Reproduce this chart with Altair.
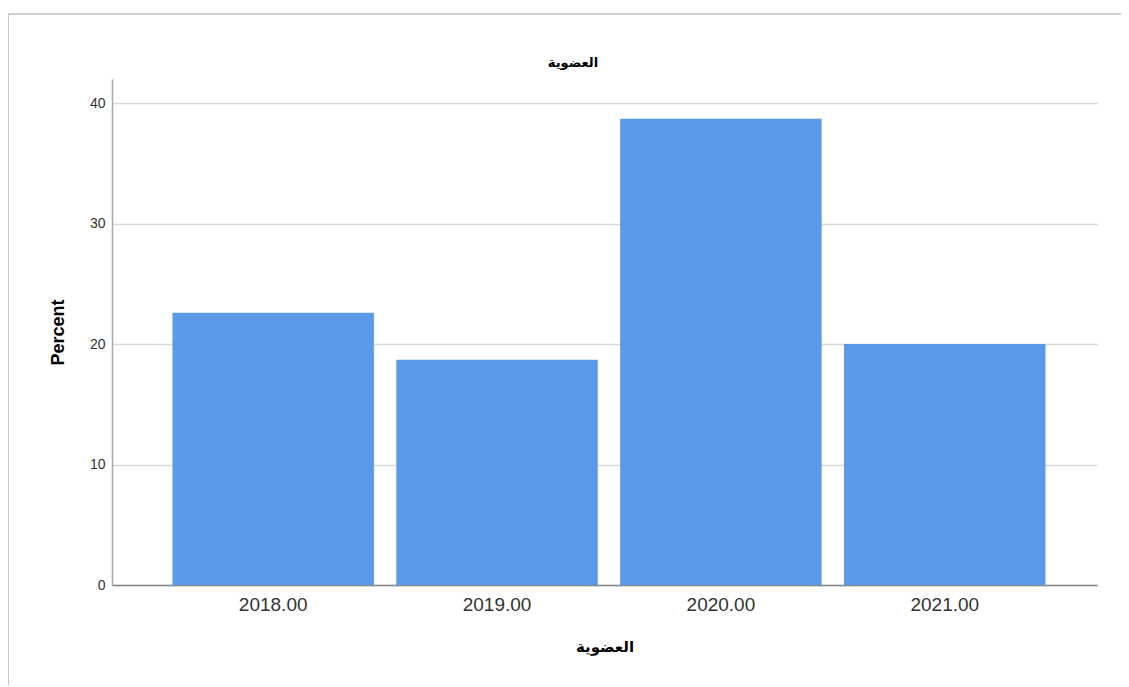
import altair as alt
import pandas as pd

years = ["2018.00", "2019.00", "2020.00", "2021.00"]
percent = [22.6, 18.7, 38.7, 20.0]
y_ticks = [0, 10, 20, 30, 40]
chart_title = "العضوية"

df = pd.DataFrame({"year": years, "percent": percent})

arabic_font = "DejaVu Sans"
latin_font = "Liberation Sans"

bars = alt.Chart(df).mark_bar(color="#5a9ae8").encode(
    x=alt.X(
        "year:N",
        sort=years,
        scale=alt.Scale(paddingInner=0.1, paddingOuter=0.25, align=0.54),
        axis=alt.Axis(
            title="العضوية",
            titleFont=arabic_font,
            titleFontSize=15,
            titleFontWeight="bold",
            titleColor="#000000",
            titlePadding=25,
            labelAngle=0,
            labelFont=latin_font,
            labelFontSize=19,
            labelColor="#333333",
            labelPadding=10,
            ticks=False,
            domainColor="#888888",
            domainWidth=1.5,
        ),
    ),
    y=alt.Y(
        "percent:Q",
        scale=alt.Scale(domain=[0, 42], nice=False),
        axis=alt.Axis(
            title="Percent",
            titleFont=latin_font,
            titleFontSize=18,
            titleFontWeight="bold",
            titleColor="#000000",
            titlePadding=22,
            values=y_ticks,
            labelFont=latin_font,
            labelFontSize=14,
            labelColor="#333333",
            labelPadding=7,
            ticks=False,
            grid=True,
            gridColor="#d9d9d9",
            gridWidth=1.5,
            domainColor="#aaaaaa",
            domainWidth=1.5,
        ),
    ),
)

frame_data = alt.Data(values=[{"k": 1}])
left_edge = alt.Chart(frame_data).mark_rule(color="#c4c4c4", strokeWidth=3).encode(
    x=alt.value(-104.5), y=alt.value(-65), y2=alt.value(607)
)
top_edge = alt.Chart(frame_data).mark_rule(color="#d0d0d0", strokeWidth=2).encode(
    x=alt.value(-104), x2=alt.value(1009), y=alt.value(-65)
)
bottom_edge = alt.Chart(frame_data).mark_rule(color="#eeeeee", strokeWidth=2).encode(
    x=alt.value(-104), x2=alt.value(1009), y=alt.value(607)
)
title_text = alt.Chart(frame_data).mark_text(
    font=arabic_font, fontSize=13, fontWeight="bold", color="#000000",
    align="center", baseline="middle",
).encode(x=alt.value(461), y=alt.value(-16), text=alt.value(chart_title))

chart = alt.layer(left_edge, top_edge, bottom_edge, title_text, bars).properties(
    width=985,
    height=506,
    background="#ffffff",
    autosize=alt.AutoSizeParams(type="none"),
    padding={"left": 104, "top": 71, "right": 24, "bottom": 100},
).configure_view(strokeWidth=0, stroke=None)

chart.save("out.html", embed_options={"renderer": "svg", "actions": False})
